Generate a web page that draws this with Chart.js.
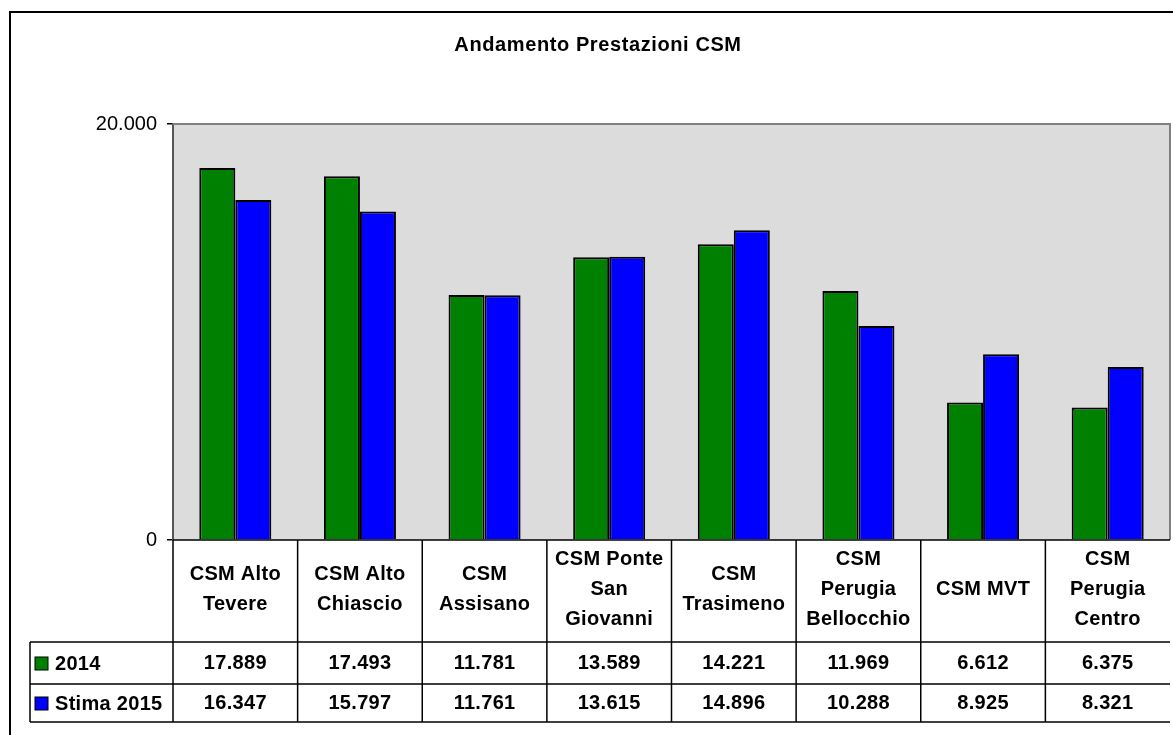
<!DOCTYPE html>
<html>
<head>
<meta charset="utf-8">
<script src="https://cdn.jsdelivr.net/npm/chart.js@4/dist/chart.umd.min.js"></script>
<style>
  html, body { margin: 0; padding: 0; background: #fff; }
  #wrap { width: 1173px; height: 735px; }
</style>
</head>
<body>
<div id="wrap"><canvas id="myChart" width="1173" height="735"></canvas></div>
<script>
// DATI
const titolo = 'Andamento Prestazioni CSM'
const categorie = [
    ['CSM Alto', 'Tevere'],
    ['CSM Alto', 'Chiascio'],
    ['CSM', 'Assisano'],
    ['CSM Ponte', 'San', 'Giovanni'],
    ['CSM', 'Trasimeno'],
    ['CSM', 'Perugia', 'Bellocchio'],
    ['CSM MVT'],
    ['CSM', 'Perugia', 'Centro']
]
const serie = ['2014', 'Stima 2015']
const valori2014 = [17889, 17493, 11781, 13589, 14221, 11969, 6612, 6375]
const valori2015 = [16347, 15797, 11761, 13615, 14896, 10288, 8925, 8321]
const tickY = [0, 20000]

const colori = ['#008000', '#0000ff']
const FONT = '"Liberation Sans", Arial, sans-serif'

// formato italiano 20.000
function formatta(n) {
    return String(Math.round(n)).replace(/\B(?=(\d{3})+(?!\d))/g, '.')
}

// SFONDO AREA GRAFICO
const sfondo = {
    id: 'sfondo',
    beforeDraw(chart) {
        const a = chart.chartArea, ctx = chart.ctx
        ctx.save()
        ctx.fillStyle = '#dcdcdc'
        ctx.fillRect(a.left, a.top, a.right - a.left, a.bottom - a.top)
        ctx.restore()
    }
}

// TITOLO, CORNICE E TABELLA DATI
const tabella = {
    id: 'tabella',
    afterDraw(chart) {
        const ctx = chart.ctx, a = chart.chartArea, x = chart.scales.x
        ctx.save()

        // cornice esterna
        ctx.strokeStyle = '#000'
        ctx.lineWidth = 2
        ctx.beginPath()
        ctx.moveTo(10, 735); ctx.lineTo(10, 12); ctx.lineTo(1173, 12)
        ctx.stroke()

        // bordo area grafico
        ctx.strokeStyle = '#808080'
        ctx.lineWidth = 2
        ctx.beginPath()
        ctx.moveTo(a.left, a.top); ctx.lineTo(a.right, a.top); ctx.lineTo(a.right, a.bottom)
        ctx.stroke()

        // titolo
        ctx.fillStyle = '#000'
        ctx.font = 'bold 20px ' + FONT
        ctx.letterSpacing = '0.6px'
        ctx.textAlign = 'center'
        ctx.textBaseline = 'middle'
        ctx.fillText(titolo, 598, 45)

        // linee tabella
        const top = a.bottom, r1 = 642, r2 = 684, r3 = 722, sx = 30
        ctx.strokeStyle = '#000'
        ctx.lineWidth = 1.5
        ctx.beginPath()
        ctx.moveTo(a.left, top); ctx.lineTo(a.right, top)
        ctx.moveTo(sx, r1); ctx.lineTo(a.right, r1)
        ctx.moveTo(sx, r2); ctx.lineTo(a.right, r2)
        ctx.moveTo(sx, r3); ctx.lineTo(a.right, r3)
        ctx.moveTo(sx, r1); ctx.lineTo(sx, r3)
        ctx.stroke()

        const w = (a.right - a.left) / categorie.length
        ctx.beginPath()
        for (let i = 0; i < categorie.length; i++) {
            const bx = x.getPixelForValue(i) - w / 2
            ctx.moveTo(bx, top); ctx.lineTo(bx, r3)
        }
        ctx.stroke()

        // intestazioni categorie
        ctx.font = 'bold 20px ' + FONT
        ctx.letterSpacing = '0.3px'
        for (let i = 0; i < categorie.length; i++) {
            const cx = x.getPixelForValue(i)
            const righe = categorie[i]
            const y0 = 589 - (righe.length - 1) * 30 / 2
            righe.forEach((t, k) => ctx.fillText(t, cx, y0 + k * 30))
        }

        // valori
        const righeVal = [valori2014, valori2015]
        const yRiga = [663, 703]
        righeVal.forEach((vals, s) => {
            vals.forEach((v, i) => ctx.fillText(formatta(v), x.getPixelForValue(i), yRiga[s]))
        })

        // legenda nelle righe
        ctx.textAlign = 'left'
        serie.forEach((nome, s) => {
            ctx.fillStyle = colori[s]
            ctx.fillRect(35, yRiga[s] - 6, 13, 13)
            ctx.strokeStyle = '#000'
            ctx.lineWidth = 1
            ctx.strokeRect(35, yRiga[s] - 6, 13, 13)
            ctx.fillStyle = '#000'
            ctx.fillText(nome, 55, yRiga[s] + 1)
        })

        ctx.restore()
    }
}

const ctx = document.getElementById('myChart').getContext('2d')
const myChart = new Chart(ctx, {
    type: 'bar',
    data: {
        labels: categorie.map(c => c.join(' ')),
        datasets: [{
            label: serie[0],
            data: valori2014,
            backgroundColor: colori[0],
            borderColor: '#000',
            borderWidth: 2
        }, {
            label: serie[1],
            data: valori2015,
            backgroundColor: colori[1],
            borderColor: '#000',
            borderWidth: 2
        }]
    },
    options: {
        responsive: false,
        animation: false,
        devicePixelRatio: 1,
        layout: { padding: { left: 0, right: 3, top: 124, bottom: 195 } },
        datasets: { bar: { categoryPercentage: 0.578, barPercentage: 1 } },
        plugins: {
            legend: { display: false },
            title: { display: false },
            tooltip: { enabled: false }
        },
        scales: {
            x: { display: false, offset: true },
            y: {
                min: tickY[0],
                max: tickY[1],
                afterFit(scale) { scale.width = 173 },
                afterBuildTicks(scale) { scale.ticks = tickY.map(v => ({ value: v })) },
                ticks: {
                    padding: 10,
                    color: '#000',
                    font: { family: FONT, size: 20 },
                    callback: v => formatta(v)
                },
                grid: { drawOnChartArea: false, tickLength: 6, color: '#000', lineWidth: 1.5 },
                border: { color: '#555', width: 2 }
            }
        }
    },
    plugins: [sfondo, tabella]
})
</script>
</body>
</html>
